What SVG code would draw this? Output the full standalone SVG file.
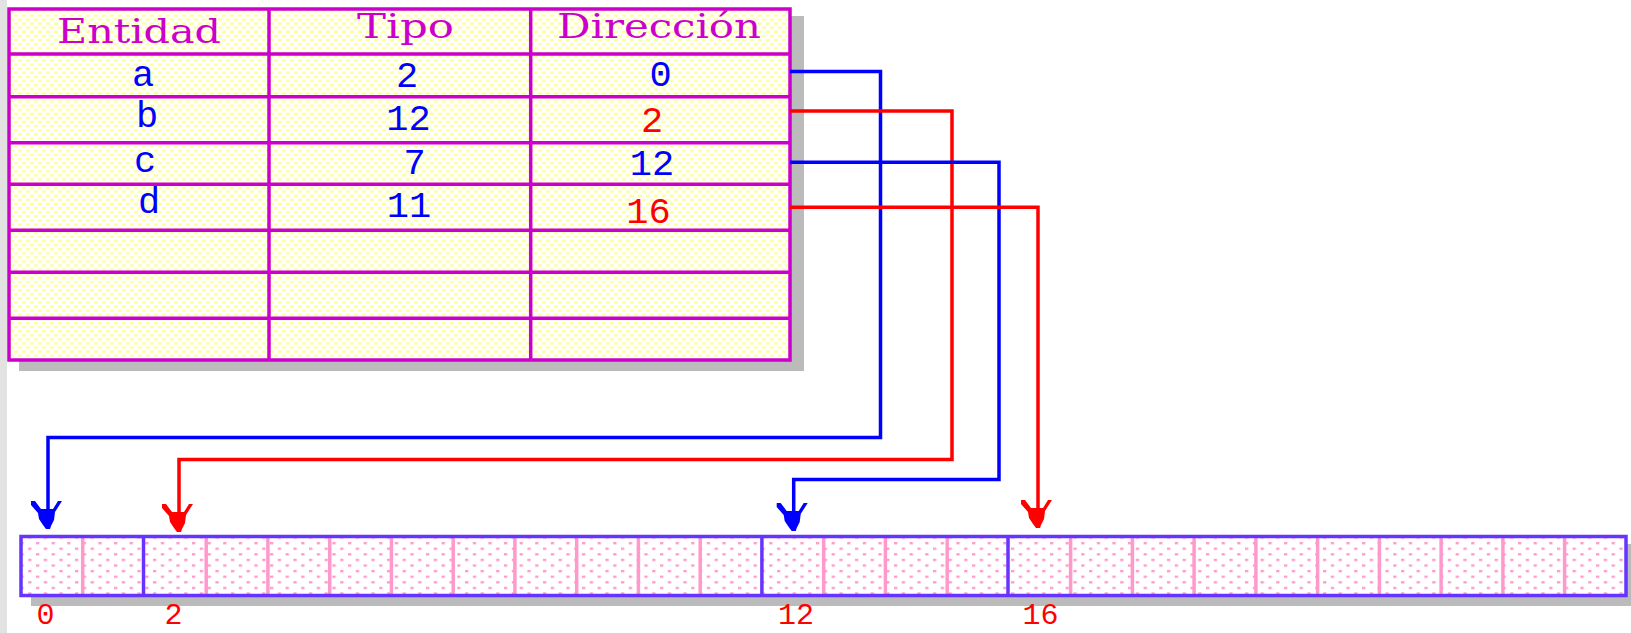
<svg xmlns="http://www.w3.org/2000/svg" width="1631" height="633" viewBox="0 0 1631 633">
<style>
.hdr{font-family:"DejaVu Serif","Liberation Serif",serif;font-size:34px;fill:#cc00cc;text-anchor:middle}
.val{font-family:"Liberation Mono","DejaVu Sans Mono",monospace;font-size:37px;text-anchor:middle}
.lbl{font-family:"Liberation Mono","DejaVu Sans Mono",monospace;font-size:30px;fill:#ff0000;text-anchor:middle}
.blue{fill:#0000ff}
.red{fill:#ff0000}
.grid{stroke:#cc00cc;stroke-width:3.5;fill:none}
.shadow{fill:#bbbbbb}
.pinkdiv{stroke:#ff99cc;stroke-width:3.5}
.bluediv{stroke:#6633ff;stroke-width:3.5}
.conn{fill:none;stroke-width:3.5;stroke-linejoin:miter}
</style>
<defs>
<pattern id="yel" patternUnits="userSpaceOnUse" x="2" y="2" width="8" height="8.2">
<rect width="8" height="8.2" fill="#ffffff"/>
<rect x="0" y="0" width="4" height="2.3" fill="#ffff99"/>
<rect x="4" y="4.1" width="4" height="2.3" fill="#ffff99"/>
</pattern>
<pattern id="pnk" patternUnits="userSpaceOnUse" x="36" y="542" width="15.6" height="11.2">
<rect width="15.6" height="11.2" fill="#ffffff"/>
<rect x="0" y="0" width="3.3" height="2.3" fill="#ff99cc"/>
<rect x="7.8" y="5.6" width="3.3" height="2.3" fill="#ff99cc"/>
</pattern>
<marker id="ahB" markerUnits="userSpaceOnUse" orient="auto" viewBox="-30 -20 32 40" refX="0" refY="0" markerWidth="32" markerHeight="40">
<polygon fill="#0000ff" points="-28,17 -28,13 -20,7 -20,-5 -28,-10 -28,-14 -17,-7 -9,-6 -3,-3 0,-2 0,2 -4,5 -10,9 -16,10 -24,17"/>
</marker>
<marker id="ahR" markerUnits="userSpaceOnUse" orient="auto" viewBox="-30 -20 32 40" refX="0" refY="0" markerWidth="32" markerHeight="40">
<polygon fill="#ff0000" points="-28,17 -28,13 -20,7 -20,-5 -28,-10 -28,-14 -17,-7 -9,-6 -3,-3 0,-2 0,2 -4,5 -10,9 -16,10 -24,17"/>
</marker>
</defs>
<rect x="0" y="0" width="1631" height="633" fill="#ffffff"/>
<rect x="0" y="0" width="7" height="633" fill="#e2e2e2"/>

<g id="table">
<rect class="shadow" x="19" y="16" width="785" height="355"/>
<rect x="9" y="9" width="781" height="351" fill="url(#yel)"/>
<g class="grid">
<line x1="9" y1="54" x2="790" y2="54"/>
<line x1="9" y1="96.7" x2="790" y2="96.7"/>
<line x1="9" y1="142.7" x2="790" y2="142.7"/>
<line x1="9" y1="184.3" x2="790" y2="184.3"/>
<line x1="9" y1="230.2" x2="790" y2="230.2"/>
<line x1="9" y1="272.3" x2="790" y2="272.3"/>
<line x1="9" y1="318.3" x2="790" y2="318.3"/>
<line x1="269" y1="9" x2="269" y2="360"/>
<line x1="530.7" y1="9" x2="530.7" y2="360"/>
<rect x="9" y="9" width="781" height="351"/>
</g>
<text class="hdr" x="139" y="43" textLength="164" lengthAdjust="spacingAndGlyphs">Entidad</text>
<text class="hdr" x="405.5" y="38" textLength="97" lengthAdjust="spacingAndGlyphs">Tipo</text>
<text class="hdr" x="659" y="38" textLength="204" lengthAdjust="spacingAndGlyphs">Dirección</text>
<text class="val blue" x="143" y="86">a</text>
<text class="val blue" x="147" y="127">b</text>
<text class="val blue" x="145" y="172">c</text>
<text class="val blue" x="149" y="213">d</text>
<text class="val blue" x="407" y="87">2</text>
<text class="val blue" x="408.5" y="130">12</text>
<text class="val blue" x="414.5" y="174">7</text>
<text class="val blue" x="409" y="217">11</text>
<text class="val blue" x="660.5" y="86">0</text>
<text class="val red" x="652" y="132">2</text>
<text class="val blue" x="652" y="175">12</text>
<text class="val red" x="648.5" y="223">16</text>
</g>

<g id="memory">
<rect class="shadow" x="31" y="544" width="1600" height="62"/>
<rect x="21" y="536.5" width="1605" height="59" fill="url(#pnk)"/>
<g class="pinkdiv">
<line x1="82.7" y1="536.5" x2="82.7" y2="595.5"/>
<line x1="206.2" y1="536.5" x2="206.2" y2="595.5"/>
<line x1="267.9" y1="536.5" x2="267.9" y2="595.5"/>
<line x1="329.7" y1="536.5" x2="329.7" y2="595.5"/>
<line x1="391.4" y1="536.5" x2="391.4" y2="595.5"/>
<line x1="453.2" y1="536.5" x2="453.2" y2="595.5"/>
<line x1="514.9" y1="536.5" x2="514.9" y2="595.5"/>
<line x1="576.7" y1="536.5" x2="576.7" y2="595.5"/>
<line x1="638.4" y1="536.5" x2="638.4" y2="595.5"/>
<line x1="700.2" y1="536.5" x2="700.2" y2="595.5"/>
<line x1="823.7" y1="536.5" x2="823.7" y2="595.5"/>
<line x1="885.4" y1="536.5" x2="885.4" y2="595.5"/>
<line x1="947.2" y1="536.5" x2="947.2" y2="595.5"/>
<line x1="1070.6" y1="536.5" x2="1070.6" y2="595.5"/>
<line x1="1132.4" y1="536.5" x2="1132.4" y2="595.5"/>
<line x1="1194.1" y1="536.5" x2="1194.1" y2="595.5"/>
<line x1="1255.9" y1="536.5" x2="1255.9" y2="595.5"/>
<line x1="1317.6" y1="536.5" x2="1317.6" y2="595.5"/>
<line x1="1379.4" y1="536.5" x2="1379.4" y2="595.5"/>
<line x1="1441.1" y1="536.5" x2="1441.1" y2="595.5"/>
<line x1="1502.9" y1="536.5" x2="1502.9" y2="595.5"/>
<line x1="1564.6" y1="536.5" x2="1564.6" y2="595.5"/>
</g>
<g class="bluediv">
<line x1="143.5" y1="536.5" x2="143.5" y2="595.5"/>
<line x1="761.9" y1="536.5" x2="761.9" y2="595.5"/>
<line x1="1008" y1="536.5" x2="1008" y2="595.5"/>
</g>
<rect x="21" y="536.5" width="1605" height="59" fill="none" stroke="#6633ff" stroke-width="3.5"/>
<text class="lbl" x="45.5" y="624">0</text>
<text class="lbl" x="173.5" y="624">2</text>
<text class="lbl" x="796" y="624">12</text>
<text class="lbl" x="1040.5" y="624">16</text>
</g>

<g id="connectors">
<path class="conn" stroke="#0000ff" marker-end="url(#ahB)" d="M790 71.5 H880.5 V437.5 H48 V529"/>
<path class="conn" stroke="#ff0000" marker-end="url(#ahR)" d="M790 111 H952 V459.5 H179 V532"/>
<path class="conn" stroke="#0000ff" marker-end="url(#ahB)" d="M790 162.3 H999 V479.5 H793.7 V531"/>
<path class="conn" stroke="#ff0000" marker-end="url(#ahR)" d="M790 207.3 H1038 V528"/>
</g>
</svg>
